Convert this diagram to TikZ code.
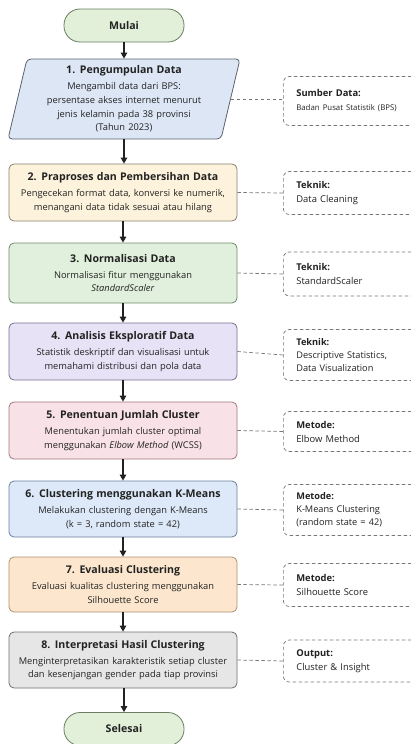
\documentclass[tikz,border=0pt]{standalone}
\usepackage{fontspec}
\setmainfont{Open Sans}
\usetikzlibrary{arrows.meta}
\definecolor{txt}{HTML}{222222}
\definecolor{termF}{HTML}{E2F0D9}\definecolor{termD}{HTML}{6B7D63}
\definecolor{c1F}{HTML}{DCE6F5}\definecolor{c1D}{HTML}{5A6270}
\definecolor{c2F}{HTML}{FDF3DC}\definecolor{c2D}{HTML}{8A8070}
\definecolor{c3F}{HTML}{E1F0DC}\definecolor{c3D}{HTML}{6E8A68}
\definecolor{c4F}{HTML}{E7E2F5}\definecolor{c4D}{HTML}{7A7090}
\definecolor{c5F}{HTML}{F8E2E7}\definecolor{c5D}{HTML}{A07880}
\definecolor{c6F}{HTML}{DDE9F8}\definecolor{c6D}{HTML}{6A80A0}
\definecolor{c7F}{HTML}{FCE6CD}\definecolor{c7D}{HTML}{B09070}
\definecolor{c8F}{HTML}{E6E6E6}\definecolor{c8D}{HTML}{707070}
\definecolor{sideD}{HTML}{777777}
\newcommand\ttl[1]{{\fontsize{10.6}{13}\selectfont\bfseries #1}}
\tikzset{
  term/.style={draw=termD, fill=termF, line width=0.8pt, rounded corners=16pt,
    minimum width=120pt, minimum height=33pt, inner sep=0pt,
    font=\fontsize{10.6}{13}\selectfont\bfseries, text=txt},
  proc/.style={rounded corners=5pt, line width=0.8pt, minimum width=228pt,
    minimum height=57pt, text width=226pt, align=center, inner sep=0pt,
    font=\fontsize{9.3}{13.6}\selectfont, text=txt},
  side/.style={draw=sideD, dashed, dash pattern=on 3.5pt off 2.5pt, line width=0.7pt,
    rounded corners=6pt, fill=white, anchor=west, align=left, text width=120pt,
    inner xsep=13pt, inner ysep=0pt, font=\fontsize{9.4}{14}\selectfont, text=txt},
  flow/.style={draw=txt, line width=1.2pt, -{Triangle[length=6pt,width=6.5pt]}},
  conn/.style={draw=sideD, dashed, dash pattern=on 3.5pt off 2.5pt, line width=0.7pt},
}
\begin{document}
\begin{tikzpicture}[x=1pt,y=-1pt]
\useasboundingbox (0,0) rectangle (411,744);
\clip (0,0) rectangle (411,744);
\fill[white] (0,0) rectangle (411,744);

\node[term] (mulai) at (124,25.5) {Mulai};

\draw[draw=c1D, fill=c1F, line width=0.8pt, rounded corners=4pt]
  (27,59) -- (240,59) -- (221,139) -- (8,139) -- cycle;
\node[proc, minimum width=213pt, minimum height=80pt, text width=200pt] (b1) at (124,99)
  {\ttl{1. Pengumpulan Data}\\[2.5pt]Mengambil data dari BPS:\\persentase akses internet menurut\\jenis kelamin pada 38 provinsi\\(Tahun 2023)};

\node[proc, draw=c2D, fill=c2F] (b2) at (123,192.5)
  {\ttl{2. Praproses dan Pembersihan Data}\\[2.5pt]Pengecekan format data, konversi ke numerik,\\menangani data tidak sesuai atau hilang};
\node[proc, draw=c3D, fill=c3F, minimum height=60pt] (b3) at (123,273)
  {\ttl{3. Normalisasi Data}\\[2.5pt]Normalisasi fitur menggunakan\\\textit{StandardScaler}};
\node[proc, draw=c4D, fill=c4F] (b4) at (123,351.5)
  {\ttl{4. Analisis Eksploratif Data}\\[2.5pt]Statistik deskriptif dan visualisasi untuk\\memahami distribusi dan pola data};
\node[proc, draw=c5D, fill=c5F] (b5) at (123,430.5)
  {\ttl{5. Penentuan Jumlah Cluster}\\[2.5pt]Menentukan jumlah cluster optimal\\menggunakan \textit{Elbow Method} (WCSS)};
\node[proc, draw=c6D, fill=c6F, minimum height=56pt] (b6) at (123,509)
  {\ttl{6. Clustering menggunakan K-Means}\\[2.5pt]Melakukan clustering dengan K-Means\\(k = 3, random state = 42)};
\node[proc, draw=c7D, fill=c7F, minimum height=55pt] (b7) at (123,584.5)
  {\ttl{7. Evaluasi Clustering}\\[2.5pt]Evaluasi kualitas clustering menggunakan\\Silhouette Score};
\node[proc, draw=c8D, fill=c8F, minimum height=56pt] (b8) at (123,660)
  {\ttl{8. Interpretasi Hasil Clustering}\\[2.5pt]Menginterpretasikan karakteristik setiap cluster\\dan kesenjangan gender pada tiap provinsi};

\node[term] (selesai) at (124,729) {Selesai};

\draw[flow] (mulai) -- (b1);
\draw[flow] (b1.south) -- (b1.south |- b2.north);
\draw[flow] (b2) -- (b3);
\draw[flow] (b3) -- (b4);
\draw[flow] (b4) -- (b5);
\draw[flow] (b5) -- (b6);
\draw[flow] (b6) -- (b7);
\draw[flow] (b7) -- (b8);
\draw[flow] (b8.south -| selesai.north) -- (selesai.north);

\node[side, minimum height=49pt] (s1) at (283,101)
  {{\bfseries Sumber Data:}\\{\fontsize{7.8}{12}\selectfont Badan Pusat Statistik (BPS)}};
\node[side, minimum height=43pt] (s2) at (283,193)
  {{\bfseries Teknik:}\\Data Cleaning};
\node[side, minimum height=44pt] (s3) at (283,274)
  {{\bfseries Teknik:}\\StandardScaler};
\node[side, minimum height=51pt, font=\fontsize{9.2}{13.2}\selectfont] (s4) at (283,355)
  {{\bfseries Teknik:}\\Descriptive Statistics,\\Data Visualization};
\node[side, minimum height=40pt] (s5) at (283,431.5)
  {{\bfseries Metode:}\\Elbow Method};
\node[side, minimum height=51pt, font=\fontsize{9.2}{13.2}\selectfont] (s6) at (283,510)
  {{\bfseries Metode:}\\K-Means Clustering\\(random state = 42)};
\node[side, minimum height=43pt] (s7) at (283,585)
  {{\bfseries Metode:}\\Silhouette Score};
\node[side, minimum height=42pt] (s8) at (283,661)
  {{\bfseries Output:}\\Cluster \& Insight};

\draw[conn] (b1.east) -- (s1.west |- b1.east);
\draw[conn] (b2.east) -- (s2.west);
\draw[conn] (b3.east) -- (s3.west);
\draw[conn] (b4.east) -- (s4.west);
\draw[conn] (b5.east) -- (s5.west);
\draw[conn] (b6.east) -- (s6.west);
\draw[conn] (b7.east) -- (s7.west);
\draw[conn] (b8.east) -- (s8.west);
\end{tikzpicture}
\end{document}
